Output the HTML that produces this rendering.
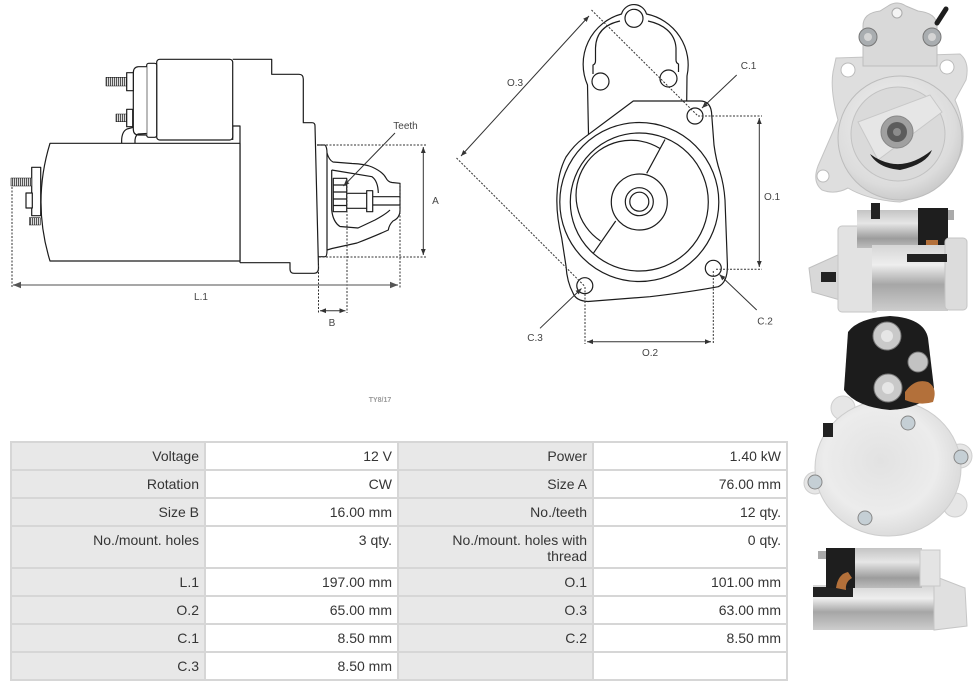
<!DOCTYPE html>
<html><head><meta charset="utf-8">
<style>
html,body{margin:0;padding:0;background:#fff;}
#wrap{position:relative;width:976px;height:692px;overflow:hidden;background:#fff;}
svg{position:absolute;left:0;top:0;}
#tbl{position:absolute;left:10px;top:441px;width:778px;height:240px;background:#d6d6d6;display:grid;grid-template-columns:192px 191px 193px 192px;grid-template-rows:26px 26px 26px 40px 26px 26px 26px 26px;gap:2px;padding:2px;box-sizing:border-box;font-family:"Liberation Sans",Arial,sans-serif;font-size:14px;color:#353535;}
#tbl div{text-align:right;padding:5px 5px 0 0;line-height:16px;box-sizing:border-box;white-space:nowrap;}
#tbl .l{background:#e8e8e8;}
#tbl .v{background:#fff;}
</style></head><body><div id="wrap">
<svg width="976" height="692" viewBox="0 0 976 692" xmlns="http://www.w3.org/2000/svg">
<defs>
<marker id="ah" viewBox="0 0 10 10" refX="10" refY="5" markerWidth="6" markerHeight="6" orient="auto-start-reverse"><path d="M0,1 L10,5 L0,9 z" fill="#333"/></marker>
<marker id="ahg" viewBox="0 0 10 10" refX="10" refY="5" markerWidth="5" markerHeight="5" orient="auto-start-reverse"><path d="M0,1 L10,5 L0,9 z" fill="#555"/></marker>
<pattern id="th" width="2" height="4" patternUnits="userSpaceOnUse"><rect width="2" height="4" fill="#ddd"/><rect width="1" height="4" fill="#555"/></pattern>
<radialGradient id="met1" cx="0.45" cy="0.4" r="0.7"><stop offset="0" stop-color="#f3f3f3"/><stop offset="0.7" stop-color="#dcdcdc"/><stop offset="1" stop-color="#bdbdbd"/></radialGradient>
<radialGradient id="met3" cx="0.45" cy="0.45" r="0.65"><stop offset="0" stop-color="#e2e2e2"/><stop offset="0.6" stop-color="#ececec"/><stop offset="1" stop-color="#d2d2d2"/></radialGradient>
<linearGradient id="cyl" x1="0" y1="0" x2="0" y2="1"><stop offset="0" stop-color="#d5d5d5"/><stop offset="0.3" stop-color="#eeeeee"/><stop offset="0.6" stop-color="#a6a6a6"/><stop offset="1" stop-color="#cdcdcd"/></linearGradient>
<linearGradient id="cylS" x1="0" y1="0" x2="0" y2="1"><stop offset="0" stop-color="#c4c4c4"/><stop offset="0.35" stop-color="#e6e6e6"/><stop offset="0.75" stop-color="#9c9c9c"/><stop offset="1" stop-color="#bdbdbd"/></linearGradient>
</defs>

<!-- ============ LEFT SIDE VIEW ============ -->
<g fill="none" stroke="#1c1c1c" stroke-width="1.2" stroke-linejoin="round">
  <!-- housing -->
  <path d="M232.7 59.3 L271.7 59.3 L271.7 74.3 L299 74.3 Q303.3 74.3 303.3 79 L303.3 122.7 L312 122.7 Q315 122.7 315 126 L318.5 268 Q318.5 273.3 314 273.3 L294 273.3 Q290 273.3 290 269 L290 262.7 L240 262.7"/>
  <path d="M232.7 140 L232.7 126 L240 126 L240 262.7"/>
  <!-- body -->
  <path d="M50 143.3 L240 143.3 L240 261 L50 261 Q32 202 50 143.3Z" fill="#fff"/>
  <!-- solenoid -->
  <rect x="156.7" y="59.3" width="76" height="80.7" rx="3" fill="#fff"/>
  <rect x="146.7" y="63.3" width="10" height="74" rx="2" fill="#fff"/>
  <path d="M146.7 66.7 L138.5 66.7 Q133.3 67 133.3 73 L133.3 129 Q133.3 135 138.5 135 L146.7 135" fill="#fff"/>
  <!-- connectors below solenoid -->
  <path d="M121.7 143.3 Q121 132 127 129 L133.3 127.3"/>
  <path d="M135 143.3 Q134.5 136 138 134 L146.7 133.5"/>
  <!-- solenoid studs -->
  <rect x="106" y="77.3" width="20.7" height="8.7" fill="url(#th)" stroke-width="0.6"/>
  <rect x="126.7" y="72.7" width="6.6" height="18" fill="#fff"/>
  <rect x="116" y="114" width="10.7" height="7.7" fill="url(#th)" stroke-width="0.6"/>
  <rect x="126.7" y="109.3" width="6" height="17.4" fill="#fff"/>
  <!-- rear end -->
  <rect x="31.7" y="167.3" width="9" height="48.4" fill="#fff"/>
  <rect x="26" y="193" width="6.3" height="15" fill="#fff"/>
  <rect x="11" y="178" width="20.7" height="8" fill="url(#th)" stroke-width="0.6"/>
  <rect x="29.3" y="217.7" width="11" height="7.3" fill="url(#th)" stroke-width="0.6"/>
  <!-- nose flange -->
  <path d="M317 145 L325 145 Q327 147 327 153 L327 250 Q327 256.7 325 256.7 L318 256.7"/>
  <!-- nose outer -->
  <path d="M327 153 Q329 160 333 162 L352 163.5 Q365 164 372 167 Q383 172 386 178 Q388 182 392 182.5 L400 183.3 L400 210 Q400 218 393 221 Q389 225 388.3 230 Q375 236 357 243 L332 248.5 L327 250"/>
  <!-- nose inner -->
  <path d="M331.7 170 L331.7 210 Q333 222 340 226.5 L358 228 L375 220 Q386 214 390 210"/>
  <path d="M331.7 170 L372 176.7 Q378 181 378.3 193"/>
  <!-- pinion -->
  <rect x="333.3" y="178.3" width="13.4" height="33.4" fill="#fff"/>
  <path d="M333.3 185 L346.7 185 M333.3 192 L346.7 192 M333.3 199 L346.7 199 M333.3 205.5 L346.7 205.5"/>
  <path d="M346.7 193.3 L366.7 193.3 M346.7 208.3 L366.7 208.3"/>
  <rect x="366.7" y="190.7" width="6" height="21" fill="#fff"/>
  <path d="M372.7 196.7 L400 196.7 M372.7 205 L400 205"/>
</g>
<!-- left dims -->
<g fill="none" stroke="#333" stroke-width="1" stroke-dasharray="2 1.5">
  <path d="M319 145 L426 145 M319 257 L426 257"/>
  <path d="M12 187 L12 287 M400 184 L400 288"/>
  <path d="M318.5 258 L318.5 313 M347 179 L347 313"/>
</g>
<g fill="none" stroke="#333" stroke-width="1">
  <line x1="423.3" y1="147" x2="423.3" y2="255" marker-start="url(#ah)" marker-end="url(#ah)"/>
  <line x1="320" y1="310.7" x2="345.5" y2="310.7" marker-start="url(#ah)" marker-end="url(#ah)"/>
  <line x1="395" y1="133" x2="343.5" y2="186" marker-end="url(#ah)"/>
</g>
<line x1="13" y1="285" x2="398" y2="285" stroke="#8a8a8a" stroke-width="1.6" marker-start="url(#ahg)" marker-end="url(#ahg)"/>
<g font-family="Liberation Sans, Arial, sans-serif" font-size="10" fill="#444" text-anchor="middle">
  <text x="405.5" y="129">Teeth</text>
  <text x="435.5" y="204">A</text>
  <text x="201" y="300">L.1</text>
  <text x="332" y="326">B</text>
</g>

<!-- ============ MIDDLE FRONT VIEW ============ -->
<g fill="none" stroke="#1c1c1c" stroke-width="1.2" stroke-linejoin="round">
  <path d="M588.5 134 L587.5 85 A52 52 0 0 1 621.5 14 A13 13 0 0 1 646.5 14 A52 52 0 0 1 687 76 L686.7 101"/>
  <path d="M620 21 C606 24 596 32 595.5 48 L595.5 61 Q595.5 64 593 65 L593 74"/>
  <path d="M648 21 C662 24 675 32 676 48 L676 60 Q676 63 678.5 64 L678.5 72"/>
  <circle cx="634" cy="18.3" r="9"/>
  <circle cx="600.5" cy="81.5" r="8.5"/>
  <circle cx="668.5" cy="78.5" r="8.5"/>
  <path d="M633.3 101 L700 101 Q710 101 711.5 112 L714 145 Q716 160 720 172 Q724 185 725 200 L727.3 262 Q728.5 282 718.3 286.7 Q690 292 650 296.7 L588 301.5 Q576 301 573 293 Q567 282 566 266 L561.7 238 Q556 215 557 195 Q558 172 566 157 Q574 145 583.3 138.3 Z"/>
  <circle cx="639.3" cy="202" r="79.5"/>
  <circle cx="639.3" cy="202" r="69"/>
  <path d="M660 148.5 A55 55 0 0 0 600.5 241"/>
  <path d="M665 139.5 L646.7 173.3 M615.7 221 L593.3 253.3"/>
  <circle cx="639.3" cy="202" r="28"/>
  <circle cx="639.3" cy="201.7" r="14"/>
  <circle cx="639.3" cy="201.7" r="9.5"/>
  <circle cx="695" cy="116" r="8"/>
  <circle cx="713.3" cy="268.3" r="8"/>
  <circle cx="584.8" cy="285.7" r="8"/>
</g>
<g fill="none" stroke="#333" stroke-width="1" stroke-dasharray="2 1.5">
  <path d="M591.5 10 L698 116 M456.5 158 L585 286.5"/>
  <path d="M698 116 L762 116 M716 269.3 L762 269.3"/>
  <path d="M585 287 L585 344 M713.3 271 L713.3 344"/>
</g>
<g fill="none" stroke="#333" stroke-width="1">
  <line x1="589" y1="16" x2="461" y2="156" marker-start="url(#ah)" marker-end="url(#ah)"/>
  <line x1="759.3" y1="118" x2="759.3" y2="267" marker-start="url(#ah)" marker-end="url(#ah)"/>
  <line x1="587" y1="341.7" x2="711" y2="341.7" marker-start="url(#ah)" marker-end="url(#ah)"/>
  <line x1="736.7" y1="75" x2="702" y2="108" marker-end="url(#ah)"/>
  <line x1="756.7" y1="310" x2="719.5" y2="274.5" marker-end="url(#ah)"/>
  <line x1="540" y1="328.3" x2="581.5" y2="288.5" marker-end="url(#ah)"/>
</g>
<g font-family="Liberation Sans, Arial, sans-serif" font-size="10" fill="#444" text-anchor="middle">
  <text x="515" y="86">O.3</text>
  <text x="748.5" y="69">C.1</text>
  <text x="772" y="200">O.1</text>
  <text x="765" y="324.5">C.2</text>
  <text x="535" y="341">C.3</text>
  <text x="650" y="356">O.2</text>
</g>
<text x="380" y="402" font-family="Liberation Sans, Arial, sans-serif" font-size="7" font-weight="bold" fill="#9a9a9a" text-anchor="middle">TY8/17</text>

<!-- ============ PHOTOS ============ -->
<!-- photo 1 : front -->
<g>
  <path d="M836 58 L960 54 Q970 62 966 80 L955 100 Q966 125 962 150 Q950 190 900 202 Q868 200 848 188 Q835 195 822 190 Q812 182 818 166 L838 120 Q830 90 833 72 Z" fill="#dedede" stroke="#c4c4c4"/>
  <path d="M863 66 L863 26 Q863 13 880 11 L888 6 Q897 0 906 6 L918 11 Q937 13 937 26 L937 66 Z" fill="#d9d9d9" stroke="#bdbdbd"/>
  <circle cx="848" cy="70" r="7" fill="#fff" stroke="#bbb"/>
  <circle cx="947" cy="67" r="7" fill="#fff" stroke="#bbb"/>
  <circle cx="823" cy="176" r="6" fill="#fff" stroke="#bbb"/>
  <circle cx="897" cy="13" r="5" fill="#f4f4f4" stroke="#aaa"/>
  <circle cx="868" cy="37" r="9" fill="#a9adb0" stroke="#777"/><circle cx="868" cy="37" r="4" fill="#d4d4d4"/>
  <circle cx="932" cy="37" r="9" fill="#a9adb0" stroke="#777"/><circle cx="932" cy="37" r="4" fill="#d4d4d4"/>
  <path d="M937 23 L946 9" stroke="#1e1e1e" stroke-width="5" stroke-linecap="round"/>
  <circle cx="900" cy="138" r="62" fill="url(#met1)" stroke="#bcbcbc"/>
  <circle cx="898" cy="134" r="47" fill="#dadada" stroke="#c2c2c2"/>
  <path d="M858 122 L930 95 L942 112 L878 160 Z" fill="#e6e6e6" stroke="#c8c8c8"/>
  <path d="M870 154 Q900 176 932 150 Q927 164 900 170 Q878 168 870 154 Z" fill="#1f1f1f"/>
  <circle cx="897" cy="132" r="16" fill="#a0a0a0" stroke="#888"/>
  <circle cx="897" cy="132" r="10" fill="#5c5c5c"/>
  <circle cx="897" cy="132" r="4" fill="#8c8c8c"/>
</g>
<!-- photo 2 : side -->
<g>
  <path d="M809 268 L840 254 L840 300 L812 292 Z" fill="#d8d8d8" stroke="#c0c0c0"/>
  <rect x="821" y="272" width="15" height="10" fill="#222"/>
  <rect x="838" y="226" width="40" height="86" rx="4" fill="#e2e2e2" stroke="#c6c6c6"/>
  <rect x="857" y="210" width="64" height="38" fill="url(#cylS)"/>
  <rect x="918" y="208" width="30" height="38" fill="#1e1e1e"/>
  <rect x="948" y="210" width="6" height="10" fill="#aaa"/>
  <rect x="871" y="203" width="9" height="16" fill="#222"/>
  <rect x="872" y="245" width="76" height="66" fill="url(#cyl)"/>
  <rect x="945" y="238" width="22" height="72" rx="4" fill="#dcdcdc" stroke="#c4c4c4"/>
  <rect x="907" y="254" width="40" height="8" fill="#222"/>
  <rect x="926" y="240" width="12" height="5" fill="#b3703a"/>
</g>
<!-- photo 3 : rear -->
<g>
  <circle cx="843" cy="408" r="12" fill="#e6e6e6" stroke="#cfcfcf"/>
  <circle cx="960" cy="456" r="12" fill="#e6e6e6" stroke="#cfcfcf"/>
  <circle cx="815" cy="483" r="11" fill="#e6e6e6" stroke="#cfcfcf"/>
  <circle cx="955" cy="505" r="12" fill="#e6e6e6" stroke="#cfcfcf"/>
  <ellipse cx="888" cy="468" rx="73" ry="68" fill="url(#met3)" stroke="#cdcdcd"/>
  <path d="M848 332 Q858 318 890 316 Q924 318 928 338 L934 388 Q926 408 890 410 Q856 407 844 390 Z" fill="#1c1c1c"/>
  <circle cx="887" cy="336" r="14" fill="#c9c9c9" stroke="#777"/><circle cx="887" cy="336" r="6" fill="#e6e6e6"/>
  <circle cx="888" cy="388" r="14" fill="#c9c9c9" stroke="#777"/><circle cx="888" cy="388" r="6" fill="#e6e6e6"/>
  <circle cx="918" cy="362" r="10" fill="#c2c2c2" stroke="#777"/>
  <path d="M905 392 Q915 378 928 382 Q938 388 933 402 Q920 406 905 400 Z" fill="#b3703a"/>
  <rect x="823" y="423" width="10" height="14" fill="#222"/>
  <circle cx="908" cy="423" r="7" fill="#c5cfd5" stroke="#888"/>
  <circle cx="961" cy="457" r="7" fill="#c5cfd5" stroke="#888"/>
  <circle cx="815" cy="482" r="7" fill="#c5cfd5" stroke="#888"/>
  <circle cx="865" cy="518" r="7" fill="#c5cfd5" stroke="#888"/>
</g>
<!-- photo 4 : side -->
<g>
  <rect x="813" y="585" width="126" height="45" fill="url(#cyl)"/>
  <path d="M934 576 L965 588 L967 626 L934 630 Z" fill="#e0e0e0" stroke="#c6c6c6"/>
  <rect x="813" y="587" width="40" height="10" fill="#222"/>
  <rect x="852" y="548" width="70" height="40" fill="url(#cylS)"/>
  <rect x="826" y="548" width="29" height="40" fill="#1e1e1e"/>
  <rect x="920" y="550" width="20" height="36" fill="#e4e4e4" stroke="#c8c8c8"/>
  <rect x="818" y="551" width="8" height="8" fill="#aaa"/>
  <path d="M836 588 Q838 574 848 572 L852 578 Q845 582 846 590 Z" fill="#b3703a"/>
</g>
</svg>

<div id="tbl">
  <div class="l">Voltage</div><div class="v">12 V</div><div class="l">Power</div><div class="v">1.40 kW</div>
  <div class="l">Rotation</div><div class="v">CW</div><div class="l">Size A</div><div class="v">76.00 mm</div>
  <div class="l">Size B</div><div class="v">16.00 mm</div><div class="l">No./teeth</div><div class="v">12 qty.</div>
  <div class="l">No./mount. holes</div><div class="v">3 qty.</div><div class="l">No./mount. holes with<br>thread</div><div class="v">0 qty.</div>
  <div class="l">L.1</div><div class="v">197.00 mm</div><div class="l">O.1</div><div class="v">101.00 mm</div>
  <div class="l">O.2</div><div class="v">65.00 mm</div><div class="l">O.3</div><div class="v">63.00 mm</div>
  <div class="l">C.1</div><div class="v">8.50 mm</div><div class="l">C.2</div><div class="v">8.50 mm</div>
  <div class="l">C.3</div><div class="v">8.50 mm</div><div class="l"></div><div class="v"></div>
</div>
</div></body></html>
